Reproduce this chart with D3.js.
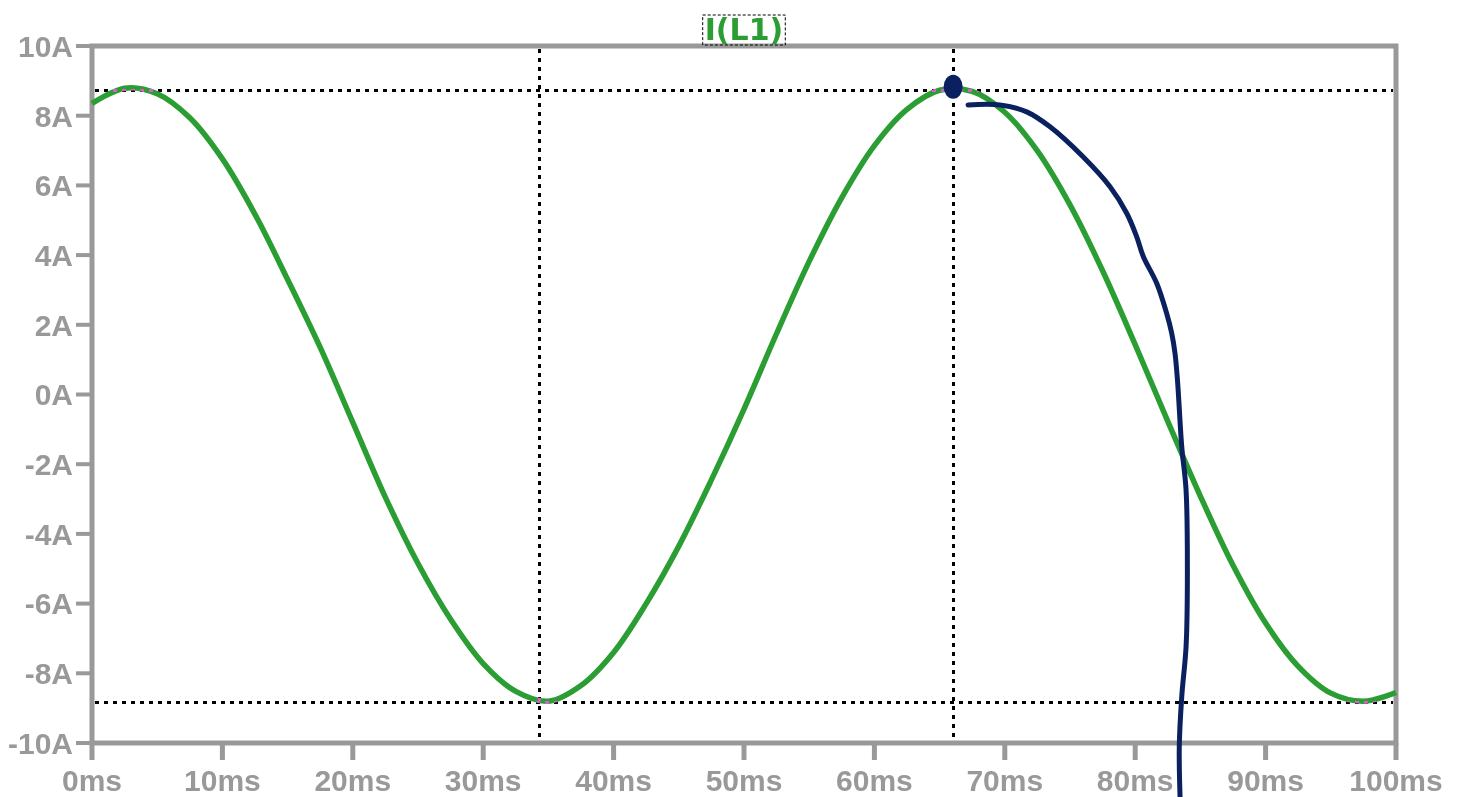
<!DOCTYPE html>
<html>
<head>
<meta charset="utf-8">
<script src="https://cdn.jsdelivr.net/npm/d3@7"></script>
<style>
  html, body { margin: 0; padding: 0; background: #fff; }
  svg { display: block; }
  .tick-label { font-family: 'Liberation Sans', Arial, sans-serif; font-weight: bold; font-size: 30px; fill: #999; }
  .title { font-family: 'DejaVu Sans', sans-serif; font-weight: bold; font-size: 30px; fill: #2a9d33; }
</style>
</head>
<body>
<div id="chart"></div>
<script>
'use strict';

// time (ms) and I(L1) (A)
var timeMs = [0, 2.5, 5, 7.5, 10, 12.5, 15, 17.5, 20, 22.5, 25, 27.5, 30, 32.5, 35, 37.5, 40,
  42.5, 45, 47.5, 50, 52.5, 55, 57.5, 60, 62.5, 65, 67.5, 70, 72.5, 75, 77.5, 80, 82.5, 85,
  87.5, 90, 92.5, 95, 97.5, 100];
var currentA = [8.35, 8.79, 8.63, 7.94, 6.76, 5.17, 3.30, 1.35, -0.80, -2.95, -4.85, -6.45,
  -7.72, -8.52, -8.80, -8.35, -7.40, -6.00, -4.35, -2.45, -0.42, 1.75, 3.82, 5.65, 7.14,
  8.18, 8.73, 8.70, 8.10, 6.99, 5.44, 3.55, 1.43, -0.77, -2.92, -4.90, -6.56, -7.80, -8.57,
  -8.80, -8.55];

var xTicks = [0, 10, 20, 30, 40, 50, 60, 70, 80, 90, 100];
var yTicks = [-10, -8, -6, -4, -2, 0, 2, 4, 6, 8, 10];

// cursors
var cursorTimes = [34.3, 66.0];
var cursorLevels = [8.75, -8.83];

// hand drawn pen stroke over the plot (ms, A)
var penMark = {t: 66.0, v: 8.8};
var penTimes = [67.18, 69.63, 71.68, 73.47, 76.0, 78.07, 79.35, 80.11, 80.62, 81.65, 82.41,
  82.8, 83.05, 83.24, 83.57, 83.9, 84.0, 83.9, 83.57, 83.38, 83.44];
var penValues = [8.31, 8.31, 8.11, 7.68, 6.82, 5.96, 5.2, 4.53, 3.96, 3.19, 2.33, 1.76, 1.19,
  0.42, -1.5, -2.74, -5.32, -7.24, -8.67, -10.11, -11.54];

var W = 1465, H = 797;
var margin = {top: 46, right: 69, bottom: 54, left: 92};

var xScale = d3.scaleLinear().domain([0, 100]).range([margin.left, W - margin.right]);
var yScale = d3.scaleLinear().domain([-10, 10]).range([H - margin.bottom, margin.top]);

var svg = d3.select('#chart').append('svg')
  .attr('width', W)
  .attr('height', H);

svg.append('rect').attr('width', W).attr('height', H).attr('fill', '#fff');

var frameColor = '#999';

// y ticks + labels
svg.append('g').selectAll('line').data(yTicks).enter().append('line')
  .attr('x1', margin.left - 16).attr('x2', margin.left)
  .attr('y1', function(d) { return yScale(d); })
  .attr('y2', function(d) { return yScale(d); })
  .attr('stroke', frameColor).attr('stroke-width', 4);

svg.append('g').selectAll('text').data(yTicks).enter().append('text')
  .attr('class', 'tick-label')
  .attr('x', margin.left - 19)
  .attr('y', function(d) { return yScale(d); })
  .attr('dy', '0.36em')
  .attr('text-anchor', 'end')
  .text(function(d) { return d + 'A'; });

// x ticks + labels
svg.append('g').selectAll('line').data(xTicks).enter().append('line')
  .attr('x1', function(d) { return xScale(d); })
  .attr('x2', function(d) { return xScale(d); })
  .attr('y1', yScale(-10)).attr('y2', yScale(-10) + 17)
  .attr('stroke', frameColor).attr('stroke-width', 5);

svg.append('g').selectAll('text').data(xTicks).enter().append('text')
  .attr('class', 'tick-label')
  .attr('x', function(d) { return xScale(d); })
  .attr('y', yScale(-10) + 48)
  .attr('text-anchor', 'middle')
  .text(function(d) { return d + 'ms'; });

// frame
svg.append('rect')
  .attr('x', xScale(0)).attr('y', yScale(10))
  .attr('width', xScale(100) - xScale(0))
  .attr('height', yScale(-10) - yScale(10))
  .attr('fill', 'none')
  .attr('stroke', frameColor)
  .attr('stroke-width', 5);

// trace
var points = timeMs.map(function(t, i) { return {t: t, v: currentA[i]}; });
var line = d3.line()
  .x(function(d) { return xScale(d.t); })
  .y(function(d) { return yScale(d.v); })
  .curve(d3.curveCatmullRom);

svg.append('path')
  .datum(points)
  .attr('d', line)
  .attr('fill', 'none')
  .attr('stroke', '#2a9d33')
  .attr('stroke-width', 5.5)
  .attr('stroke-linejoin', 'round');

// cursors, drawn xor-like so they turn magenta over the trace
var cursors = svg.append('g').style('mix-blend-mode', 'difference');
cursors.selectAll('.hc').data(cursorLevels).enter().append('line')
  .attr('x1', xScale(0) + 3).attr('x2', xScale(100) - 3)
  .attr('y1', function(d) { return Math.round(yScale(d)) + 0.5; })
  .attr('y2', function(d) { return Math.round(yScale(d)) + 0.5; });
cursors.selectAll('.vc').data(cursorTimes).enter().append('line')
  .attr('x1', function(d) { return Math.round(xScale(d)) + 0.5; })
  .attr('x2', function(d) { return Math.round(xScale(d)) + 0.5; })
  .attr('y1', yScale(10) + 3).attr('y2', yScale(-10) - 3);
cursors.selectAll('line')
  .attr('stroke', '#fff')
  .attr('stroke-width', 3)
  .attr('stroke-dasharray', '4,5');

// title
var title = svg.append('text')
  .attr('class', 'title')
  .attr('x', 744).attr('y', 40)
  .attr('text-anchor', 'middle')
  .text('I(L1)');
var bb = title.node().getBBox();
svg.append('rect')
  .attr('x', bb.x - 2).attr('y', 15)
  .attr('width', bb.width + 4).attr('height', 30)
  .attr('fill', 'none')
  .attr('stroke', '#000')
  .attr('stroke-width', 1)
  .attr('stroke-dasharray', '3,2');

// pen annotation
var penColor = '#0b215f';
svg.append('ellipse')
  .attr('cx', xScale(penMark.t) + 0.5)
  .attr('cy', yScale(penMark.v) - 1)
  .attr('rx', 9.5).attr('ry', 12)
  .attr('fill', penColor);

var penPts = penTimes.map(function(t, i) { return {t: t, v: penValues[i]}; });
svg.append('path')
  .datum(penPts)
  .attr('d', line)
  .attr('fill', 'none')
  .attr('stroke', penColor)
  .attr('stroke-width', 5)
  .attr('stroke-linecap', 'round')
  .attr('stroke-linejoin', 'round');
</script>
</body>
</html>
